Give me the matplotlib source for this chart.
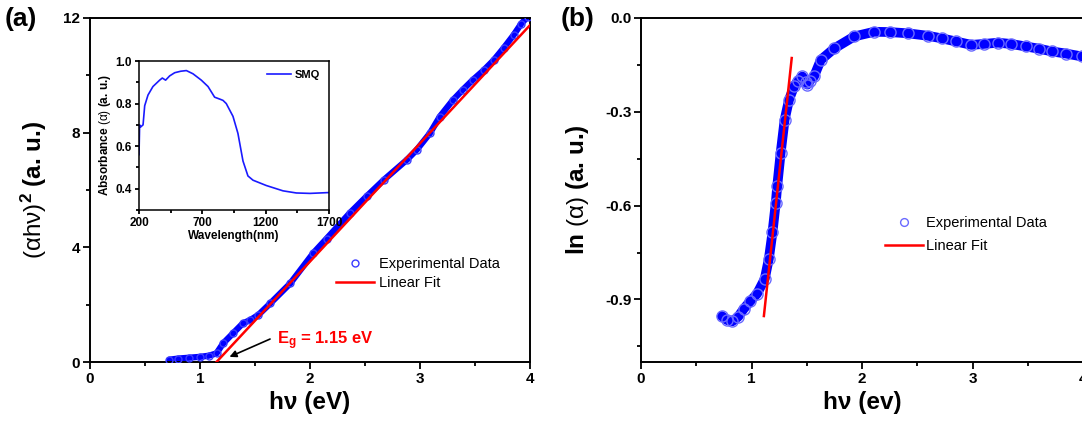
import matplotlib
matplotlib.use('Agg')
import matplotlib.pyplot as plt
from matplotlib.ticker import MultipleLocator, FormatStrFormatter

plt.rcParams['font.family'] = ['Liberation Sans', 'DejaVu Sans']
plt.rcParams['mathtext.fontset'] = 'custom'
plt.rcParams['mathtext.rm'] = 'Liberation Sans'
plt.rcParams['mathtext.it'] = 'Liberation Sans:italic'
plt.rcParams['mathtext.bf'] = 'Liberation Sans:bold'
plt.rcParams['axes.unicode_minus'] = False

# panel (a): Tauc plot
hv_a = [0.72, 0.80, 0.90, 1.00, 1.08, 1.15, 1.21, 1.30, 1.39, 1.455, 1.53, 1.64,
        1.82, 2.03, 2.15, 2.36, 2.52, 2.67, 2.88, 2.97, 3.09, 3.18, 3.30, 3.39,
        3.48, 3.58, 3.67, 3.76, 3.85, 3.92, 3.98]
ahv2_a = [0.08, 0.12, 0.15, 0.18, 0.22, 0.30, 0.65, 1.00, 1.35, 1.46, 1.64, 2.05,
          2.74, 3.80, 4.30, 5.19, 5.80, 6.35, 7.05, 7.40, 7.98, 8.56, 9.14, 9.50,
          9.84, 10.18, 10.53, 10.95, 11.40, 11.80, 12.05]
fit_a_x = [1.15, 4.0]
fit_a_y = [0.0, 11.75]

# inset: absorbance spectrum
wl = [200, 205, 213, 232, 245, 271, 310, 363, 384, 410, 442, 482, 530, 574, 626,
      692, 745, 797, 842, 863, 889, 942, 981, 1021, 1060, 1100, 1205, 1337, 1442,
      1550, 1626, 1700]
absorb = [0.56, 0.70, 0.69, 0.70, 0.79, 0.84, 0.88, 0.91, 0.92, 0.91, 0.93, 0.945,
          0.952, 0.955, 0.94, 0.91, 0.88, 0.83, 0.82, 0.815, 0.80, 0.74, 0.66, 0.53,
          0.46, 0.44, 0.415, 0.39, 0.38, 0.378, 0.38, 0.382]
wl_ticks = [200, 700, 1200, 1700]

# panel (b): ln(alpha)
hv_b = [0.73, 0.78, 0.825, 0.88, 0.93, 0.99, 1.05, 1.12, 1.157, 1.19, 1.22, 1.233,
        1.264, 1.30, 1.34, 1.385, 1.42, 1.46, 1.49, 1.506, 1.53, 1.566, 1.627, 1.75,
        1.93, 2.11, 2.25, 2.415, 2.6, 2.72, 2.85, 2.99, 3.1, 3.23, 3.35, 3.48, 3.6,
        3.72, 3.85, 3.99]
ln_b = [-0.953, -0.966, -0.970, -0.955, -0.93, -0.905, -0.882, -0.834, -0.77, -0.685,
        -0.59, -0.537, -0.431, -0.325, -0.261, -0.219, -0.20, -0.187, -0.205, -0.213,
        -0.20, -0.187, -0.134, -0.097, -0.059, -0.044, -0.045, -0.049, -0.057, -0.065,
        -0.075, -0.086, -0.083, -0.079, -0.083, -0.091, -0.098, -0.107, -0.114, -0.123]
fit_b_x = [1.112, 1.364]
fit_b_y = [-0.953, -0.128]
ln_ticks = [0.0, -0.3, -0.6, -0.9]


def style_axes(ax, size=11, major=5, minor=3):
    for s in ax.spines.values():
        s.set_linewidth(1.4)
    ax.tick_params(which='both', direction='out', top=False, right=False, width=1.3)
    ax.tick_params(which='major', length=major, labelsize=size, pad=2)
    ax.tick_params(which='minor', length=minor)
    for lab in ax.get_xticklabels() + ax.get_yticklabels():
        lab.set_fontweight('bold')


fig = plt.figure(figsize=(10.82, 4.29), dpi=100)

# ---- (a)
ax1 = fig.add_axes([90 / 1082, 1 - 362 / 429, 440 / 1082, 344 / 429])
ax1.plot(hv_a, ahv2_a, color='blue', lw=4.5, solid_capstyle='round', zorder=2)
ax1.plot(hv_a, ahv2_a, 'o', mfc='none', mec='#3a3aff', ms=5, mew=1.0,
         label='Experimental Data', zorder=3)
ax1.plot(fit_a_x, fit_a_y, color='red', lw=1.8, label='Linear Fit', zorder=4)
ax1.set_xlim(0, 4)
ax1.set_ylim(0, 12)
ax1.xaxis.set_major_locator(MultipleLocator(1))
ax1.xaxis.set_minor_locator(MultipleLocator(0.5))
ax1.yaxis.set_major_locator(MultipleLocator(4))
ax1.yaxis.set_minor_locator(MultipleLocator(2))
style_axes(ax1)
ax1.set_xlabel('hν (eV)', fontsize=17.5, fontweight='bold', labelpad=4)
ax1.set_ylabel(r'$\mathrm{(\alpha h\nu)}^\mathbf{2}$ (a. u.)', fontsize=17.5,
               fontweight='bold', labelpad=10)
ax1.legend(loc='upper left', bbox_to_anchor=(0.56, 0.305), frameon=False,
           fontsize=10.5, handlelength=2.6, handletextpad=0.3, borderpad=0,
           borderaxespad=0, labelspacing=0.35)
ax1.annotate('', xy=(1.245, 0.14), xytext=(1.66, 0.84),
             arrowprops=dict(arrowstyle='-|>', color='black', lw=1.2,
                             mutation_scale=10))
ax1.text(1.70, 0.75, r'$\mathbf{E_g}$ = 1.15 eV', color='red', fontsize=12,
         fontweight='bold', va='center', ha='left')
fig.text(5 / 1082, 1 - 19 / 429, '(a)', fontsize=19, fontweight='bold', va='center')

# inset
axi = fig.add_axes([139 / 1082, 1 - 210 / 429, 190 / 1082, 149 / 429])
axi.plot(wl, absorb, color='#1a1aff', lw=1.2, label='SMQ')
axi.set_xlim(200, 1700)
axi.set_ylim(0.3, 1.0)
axi.set_xticks(wl_ticks)
axi.set_xticks([450, 950, 1450], minor=True)
axi.yaxis.set_major_locator(MultipleLocator(0.2))
axi.yaxis.set_minor_locator(MultipleLocator(0.1))
axi.yaxis.set_major_formatter(FormatStrFormatter('%.1f'))
style_axes(axi, size=8.5, major=3, minor=2)
for s in axi.spines.values():
    s.set_linewidth(1.1)
axi.set_xlabel('Wavelength(nm)', fontsize=8.5, fontweight='bold', labelpad=1)
axi.set_ylabel(r'Absorbance $\mathrm{(\alpha)}$ (a. u.)', fontsize=8.5,
               fontweight='bold', labelpad=2)
axi.legend(loc='upper right', frameon=False, prop={'weight': 'bold', 'size': 8},
           handlelength=2.2, handletextpad=0.3, borderaxespad=0.4)

# ---- (b)
ax2 = fig.add_axes([641 / 1082, 1 - 362 / 429, 442 / 1082, 344 / 429])
ax2.plot(hv_b, ln_b, color='blue', lw=7, solid_capstyle='round', zorder=2)
ax2.plot(hv_b, ln_b, 'o', mfc='none', mec='#6a6aff', ms=8, mew=1.0,
         label='Experimental Data', zorder=3)
ax2.plot(fit_b_x, fit_b_y, color='red', lw=1.8, label='Linear Fit', zorder=4)
ax2.set_xlim(0, 4)
ax2.set_ylim(-1.1, 0)
ax2.xaxis.set_major_locator(MultipleLocator(1))
ax2.xaxis.set_minor_locator(MultipleLocator(0.5))
ax2.set_yticks(ln_ticks)
ax2.set_yticks([-0.15, -0.45, -0.75, -1.05], minor=True)
ax2.yaxis.set_major_formatter(FormatStrFormatter('%.1f'))
style_axes(ax2)
ax2.set_xlabel('hν (ev)', fontsize=17.5, fontweight='bold', labelpad=4)
ax2.set_ylabel(r'ln $\mathrm{(\alpha)}$ (a. u.)', fontsize=17.5, fontweight='bold',
               labelpad=10)
ax2.legend(loc='upper left', bbox_to_anchor=(0.553, 0.425), frameon=False,
           fontsize=10.5, handlelength=2.6, handletextpad=0.2, borderpad=0,
           borderaxespad=0, labelspacing=0.65, markerscale=0.7)
fig.text(561 / 1082, 1 - 19 / 429, '(b)', fontsize=19, fontweight='bold', va='center')

fig.savefig('out.png', dpi=100)
